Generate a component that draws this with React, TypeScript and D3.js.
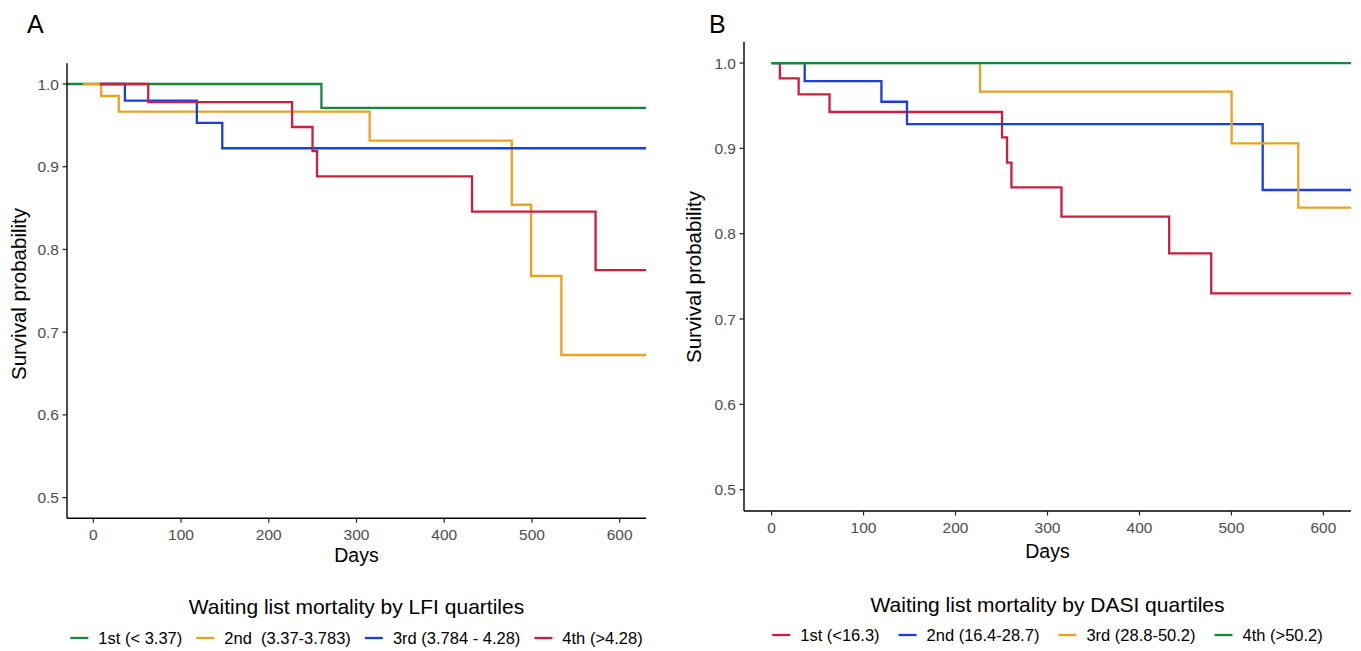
import React from "react";
import * as d3 from "d3";

// ---------- DATA ----------
const dayTicks = [0, 100, 200, 300, 400, 500, 600];
const survTicks = [0.5, 0.6, 0.7, 0.8, 0.9, 1.0];

// Panel A: LFI quartiles
const lfiTitle = "Waiting list mortality by LFI quartiles";
const lfiLabels = ["1st (< 3.37)", "2nd  (3.37-3.783)", "3rd (3.784 - 4.28)", "4th (>4.28)"];
const lfiColors = ["#12893b", "#e9a320", "#1c3ee0", "#cb1f3e"];
const lfiStarts = [-30, -12, 7.6, 7.6];
const lfi1Times = [260];
const lfi1Surv = [0.971];
const lfi2Times = [9, 29, 315, 477, 499, 533.5];
const lfi2Surv = [0.9855, 0.9666, 0.9316, 0.854, 0.768, 0.6724];
const lfi3Times = [36, 118, 147];
const lfi3Surv = [0.98, 0.953, 0.9223];
const lfi4Times = [62.6, 226.6, 249.9, 255, 431.7, 572.5];
const lfi4Surv = [0.978, 0.948, 0.919, 0.8884, 0.8456, 0.7751];

// Panel B: DASI quartiles
const dasiTitle = "Waiting list mortality by DASI quartiles";
const dasiLabels = ["1st (<16.3)", "2nd (16.4-28.7)", "3rd (28.8-50.2)", "4th (>50.2)"];
const dasiColors = ["#cb1f3e", "#1c3ee0", "#e9a320", "#12893b"];
const dasiStarts = [0, 0, 0, 0];
const dasi1Times = [9, 29.4, 63, 250.6, 256, 260.8, 315.2, 432.3, 478];
const dasi1Surv = [0.982, 0.9633, 0.9426, 0.9129, 0.8832, 0.8543, 0.8199, 0.777, 0.7301];
const dasi2Times = [36, 119.4, 147.2, 534];
const dasi2Surv = [0.9789, 0.9546, 0.9285, 0.8512];
const dasi3Times = [226.7, 500.2, 572.7];
const dasi3Surv = [0.9664, 0.9059, 0.8305];
const dasi4Times: number[] = [];
const dasi4Surv: number[] = [];

const FONT = "'Liberation Sans', Arial, Helvetica, sans-serif";
const X_DOMAIN: [number, number] = [-30, 630];
const Y_DOMAIN: [number, number] = [0.475, 1.025];

type Series = { color: string; start: number; times: number[]; surv: number[] };

function measure(text: string, size: number): number {
  if (typeof document === "undefined") return text.length * size * 0.5;
  const c = document.createElement("canvas").getContext("2d");
  if (!c) return text.length * size * 0.5;
  c.font = `${size}px 'Liberation Sans', Arial, sans-serif`;
  return c.measureText(text).width;
}

type PanelProps = {
  letter: string;
  letterX: number;
  left: number;
  right: number;
  top: number;
  bottom: number;
  series: Series[];
  labels: string[];
  colors: string[];
  title: string;
  yTitleX: number;
  yTitleY: number;
  daysY: number;
  titleY: number;
  legendY: number;
  itemGap: number;
};

function Panel(p: PanelProps) {
  const x = d3.scaleLinear().domain(X_DOMAIN).range([p.left, p.right]);
  const y = d3.scaleLinear().domain(Y_DOMAIN).range([p.bottom, p.top]);
  const line = d3
    .line<[number, number]>()
    .x((d) => x(d[0]))
    .y((d) => y(d[1]))
    .curve(d3.curveStepAfter);

  const paths = p.series.map((s) => {
    const pts: [number, number][] = [[s.start, 1]];
    s.times.forEach((t, i) => pts.push([t, s.surv[i]]));
    const last = s.surv.length ? s.surv[s.surv.length - 1] : 1;
    pts.push([X_DOMAIN[1], last]);
    return line(pts) || "";
  });

  const cx = (p.left + p.right) / 2;

  // legend layout
  const legSize = 16.5;
  const keyLen = 18;
  const keyGap = 10;
  const widths = p.labels.map((l) => measure(l, legSize));
  const total =
    widths.reduce((a, b) => a + b, 0) +
    p.labels.length * (keyLen + keyGap) +
    (p.labels.length - 1) * p.itemGap;
  let cursor = cx - total / 2;
  const items = p.labels.map((l, i) => {
    const x0 = cursor;
    cursor += keyLen + keyGap + widths[i] + p.itemGap;
    return { l, x0, color: p.colors[i] };
  });

  return (
    <g fontFamily={FONT}>
      <text x={p.letterX} y={33} fontSize={25} fill="#000">
        {p.letter}
      </text>
      {paths.map((d, i) => (
        <path key={i} d={d} fill="none" stroke={p.series[i].color} strokeWidth={2.3} />
      ))}
      <line x1={p.left} x2={p.left} y1={p.top} y2={p.bottom} stroke="#000" strokeWidth={1.4} />
      <line x1={p.left} x2={p.right} y1={p.bottom} y2={p.bottom} stroke="#000" strokeWidth={1.4} />
      {survTicks.map((t) => (
        <g key={"y" + t}>
          <line x1={p.left - 4.5} x2={p.left} y1={y(t)} y2={y(t)} stroke="#222" strokeWidth={1.2} />
          <text x={p.left - 8} y={y(t)} dy="0.36em" textAnchor="end" fontSize={15.5} fill="#4d4d4d">
            {t.toFixed(1)}
          </text>
        </g>
      ))}
      {dayTicks.map((t) => (
        <g key={"x" + t}>
          <line x1={x(t)} x2={x(t)} y1={p.bottom} y2={p.bottom + 4.5} stroke="#222" strokeWidth={1.2} />
          <text x={x(t)} y={p.bottom + 21.5} textAnchor="middle" fontSize={15.5} fill="#4d4d4d">
            {t}
          </text>
        </g>
      ))}
      <text x={cx} y={p.daysY} textAnchor="middle" fontSize={19.5} fill="#000">
        Days
      </text>
      <text
        transform={`translate(${p.yTitleX},${p.yTitleY}) rotate(-90)`}
        textAnchor="middle"
        fontSize={20.5}
        fill="#000"
      >
        Survival probability
      </text>
      <text x={cx} y={p.titleY} textAnchor="middle" fontSize={21} fill="#000">
        {p.title}
      </text>
      {items.map((it, i) => (
        <g key={"lg" + i}>
          <line
            x1={it.x0}
            x2={it.x0 + keyLen}
            y1={p.legendY - 6}
            y2={p.legendY - 6}
            stroke={it.color}
            strokeWidth={2.3}
          />
          <text
            x={it.x0 + keyLen + keyGap}
            y={p.legendY}
            fontSize={legSize}
            fill="#000"
            style={{ whiteSpace: "pre" }}
          >
            {it.l}
          </text>
        </g>
      ))}
    </g>
  );
}

export default function App() {
  const lfiTimes = [lfi1Times, lfi2Times, lfi3Times, lfi4Times];
  const lfiSurv = [lfi1Surv, lfi2Surv, lfi3Surv, lfi4Surv];
  const dasiTimes = [dasi1Times, dasi2Times, dasi3Times, dasi4Times];
  const dasiSurv = [dasi1Surv, dasi2Surv, dasi3Surv, dasi4Surv];

  const lfiSeries: Series[] = lfiColors.map((c, i) => ({
    color: c,
    start: lfiStarts[i],
    times: lfiTimes[i],
    surv: lfiSurv[i],
  }));
  const dasiSeries: Series[] = dasiColors.map((c, i) => ({
    color: c,
    start: dasiStarts[i],
    times: dasiTimes[i],
    surv: dasiSurv[i],
  }));

  return (
    <svg
      width={1361}
      height={651}
      style={{ position: "absolute", left: 0, top: 0, background: "#fff" }}
    >
      <rect width={1361} height={651} fill="#fff" />
      <Panel
        letter="A"
        letterX={27}
        left={67}
        right={646}
        top={63.3}
        bottom={518.3}
        series={lfiSeries}
        labels={lfiLabels}
        colors={lfiColors}
        title={lfiTitle}
        yTitleX={26}
        yTitleY={294}
        daysY={562}
        titleY={614}
        legendY={644}
        itemGap={14}
      />
      <Panel
        letter="B"
        letterX={709}
        left={744}
        right={1351}
        top={41.7}
        bottom={511}
        series={dasiSeries}
        labels={dasiLabels}
        colors={dasiColors}
        title={dasiTitle}
        yTitleX={701}
        yTitleY={277}
        daysY={558}
        titleY={612}
        legendY={641}
        itemGap={19}
      />
    </svg>
  );
}
